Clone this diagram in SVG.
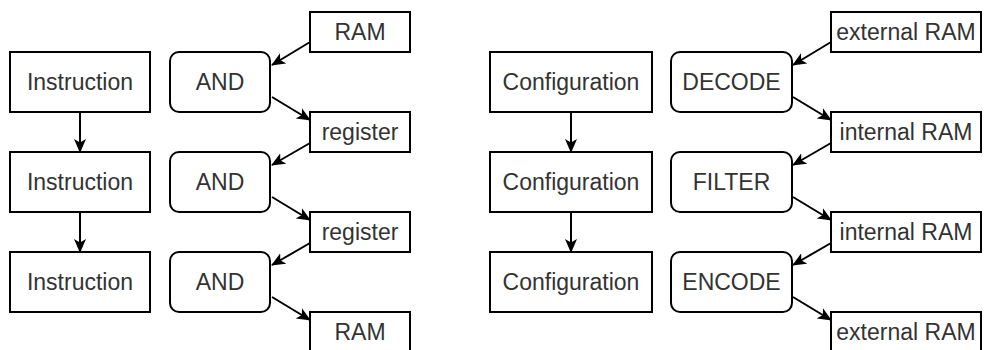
<svg xmlns="http://www.w3.org/2000/svg" width="984" height="350" viewBox="0 0 984 350">
<defs>
<marker id="ah" markerWidth="14" markerHeight="12" refX="13" refY="6" orient="auto" markerUnits="userSpaceOnUse">
<path d="M0,0 L14,6 L0,12 L3.5,6 Z" fill="#000"/>
</marker>
</defs>
<style>
.b{fill:#fff;stroke:#000;stroke-width:2}
.t{font-family:"Liberation Sans",Arial,sans-serif;font-size:23px;fill:#333;text-anchor:middle}
.c{stroke:#000;stroke-width:2;fill:none;marker-end:url(#ah)}
</style>
<rect width="984" height="350" fill="#fff"/>
<g id="connectors">
<line class="c" x1="80" y1="112" x2="80" y2="152"/>
<line class="c" x1="80" y1="212" x2="80" y2="252"/>
<line class="c" x1="310" y1="42" x2="272" y2="65"/>
<line class="c" x1="272" y1="97" x2="310" y2="120"/>
<line class="c" x1="310" y1="143" x2="272" y2="165"/>
<line class="c" x1="272" y1="197" x2="310" y2="220"/>
<line class="c" x1="310" y1="243" x2="272" y2="265"/>
<line class="c" x1="272" y1="297" x2="310" y2="320"/>
<line class="c" x1="571" y1="112" x2="571" y2="152"/>
<line class="c" x1="571" y1="212" x2="571" y2="252"/>
<line class="c" x1="831" y1="42" x2="793" y2="65"/>
<line class="c" x1="793" y1="97" x2="831" y2="120"/>
<line class="c" x1="831" y1="143" x2="793" y2="165"/>
<line class="c" x1="793" y1="197" x2="831" y2="220"/>
<line class="c" x1="831" y1="243" x2="793" y2="265"/>
<line class="c" x1="793" y1="297" x2="831" y2="320"/>
</g>
<g id="instr1"><rect class="b" x="10" y="52" width="140" height="60"/><text class="t" x="80" y="90">Instruction</text></g>
<g id="instr2"><rect class="b" x="10" y="152" width="140" height="60"/><text class="t" x="80" y="190">Instruction</text></g>
<g id="instr3"><rect class="b" x="10" y="252" width="140" height="60"/><text class="t" x="80" y="290">Instruction</text></g>
<g id="and1"><rect class="b" x="170" y="52" width="100" height="60" rx="9"/><text class="t" x="220" y="90">AND</text></g>
<g id="and2"><rect class="b" x="170" y="152" width="100" height="60" rx="9"/><text class="t" x="220" y="190">AND</text></g>
<g id="and3"><rect class="b" x="170" y="252" width="100" height="60" rx="9"/><text class="t" x="220" y="290">AND</text></g>
<g id="ram1"><rect class="b" x="310" y="12" width="100" height="40"/><text class="t" x="360" y="40">RAM</text></g>
<g id="reg1"><rect class="b" x="310" y="112" width="100" height="40"/><text class="t" x="360" y="140">register</text></g>
<g id="reg2"><rect class="b" x="310" y="212" width="100" height="40"/><text class="t" x="360" y="240">register</text></g>
<g id="ram2"><rect class="b" x="310" y="312" width="100" height="40"/><text class="t" x="360" y="340">RAM</text></g>
<g id="conf1"><rect class="b" x="490" y="52" width="162" height="60"/><text class="t" x="571" y="90">Configuration</text></g>
<g id="conf2"><rect class="b" x="490" y="152" width="162" height="60"/><text class="t" x="571" y="190">Configuration</text></g>
<g id="conf3"><rect class="b" x="490" y="252" width="162" height="60"/><text class="t" x="571" y="290">Configuration</text></g>
<g id="decode"><rect class="b" x="671" y="52" width="121" height="60" rx="9"/><text class="t" x="731.5" y="90">DECODE</text></g>
<g id="filter"><rect class="b" x="671" y="152" width="121" height="60" rx="9"/><text class="t" x="731.5" y="190">FILTER</text></g>
<g id="encode"><rect class="b" x="671" y="252" width="121" height="60" rx="9"/><text class="t" x="731.5" y="290">ENCODE</text></g>
<g id="extram1"><rect class="b" x="831" y="12" width="150" height="40"/><text class="t" x="906" y="40">external RAM</text></g>
<g id="intram1"><rect class="b" x="831" y="112" width="150" height="40"/><text class="t" x="906" y="140">internal RAM</text></g>
<g id="intram2"><rect class="b" x="831" y="212" width="150" height="40"/><text class="t" x="906" y="240">internal RAM</text></g>
<g id="extram2"><rect class="b" x="831" y="312" width="150" height="40"/><text class="t" x="906" y="340">external RAM</text></g>
</svg>
